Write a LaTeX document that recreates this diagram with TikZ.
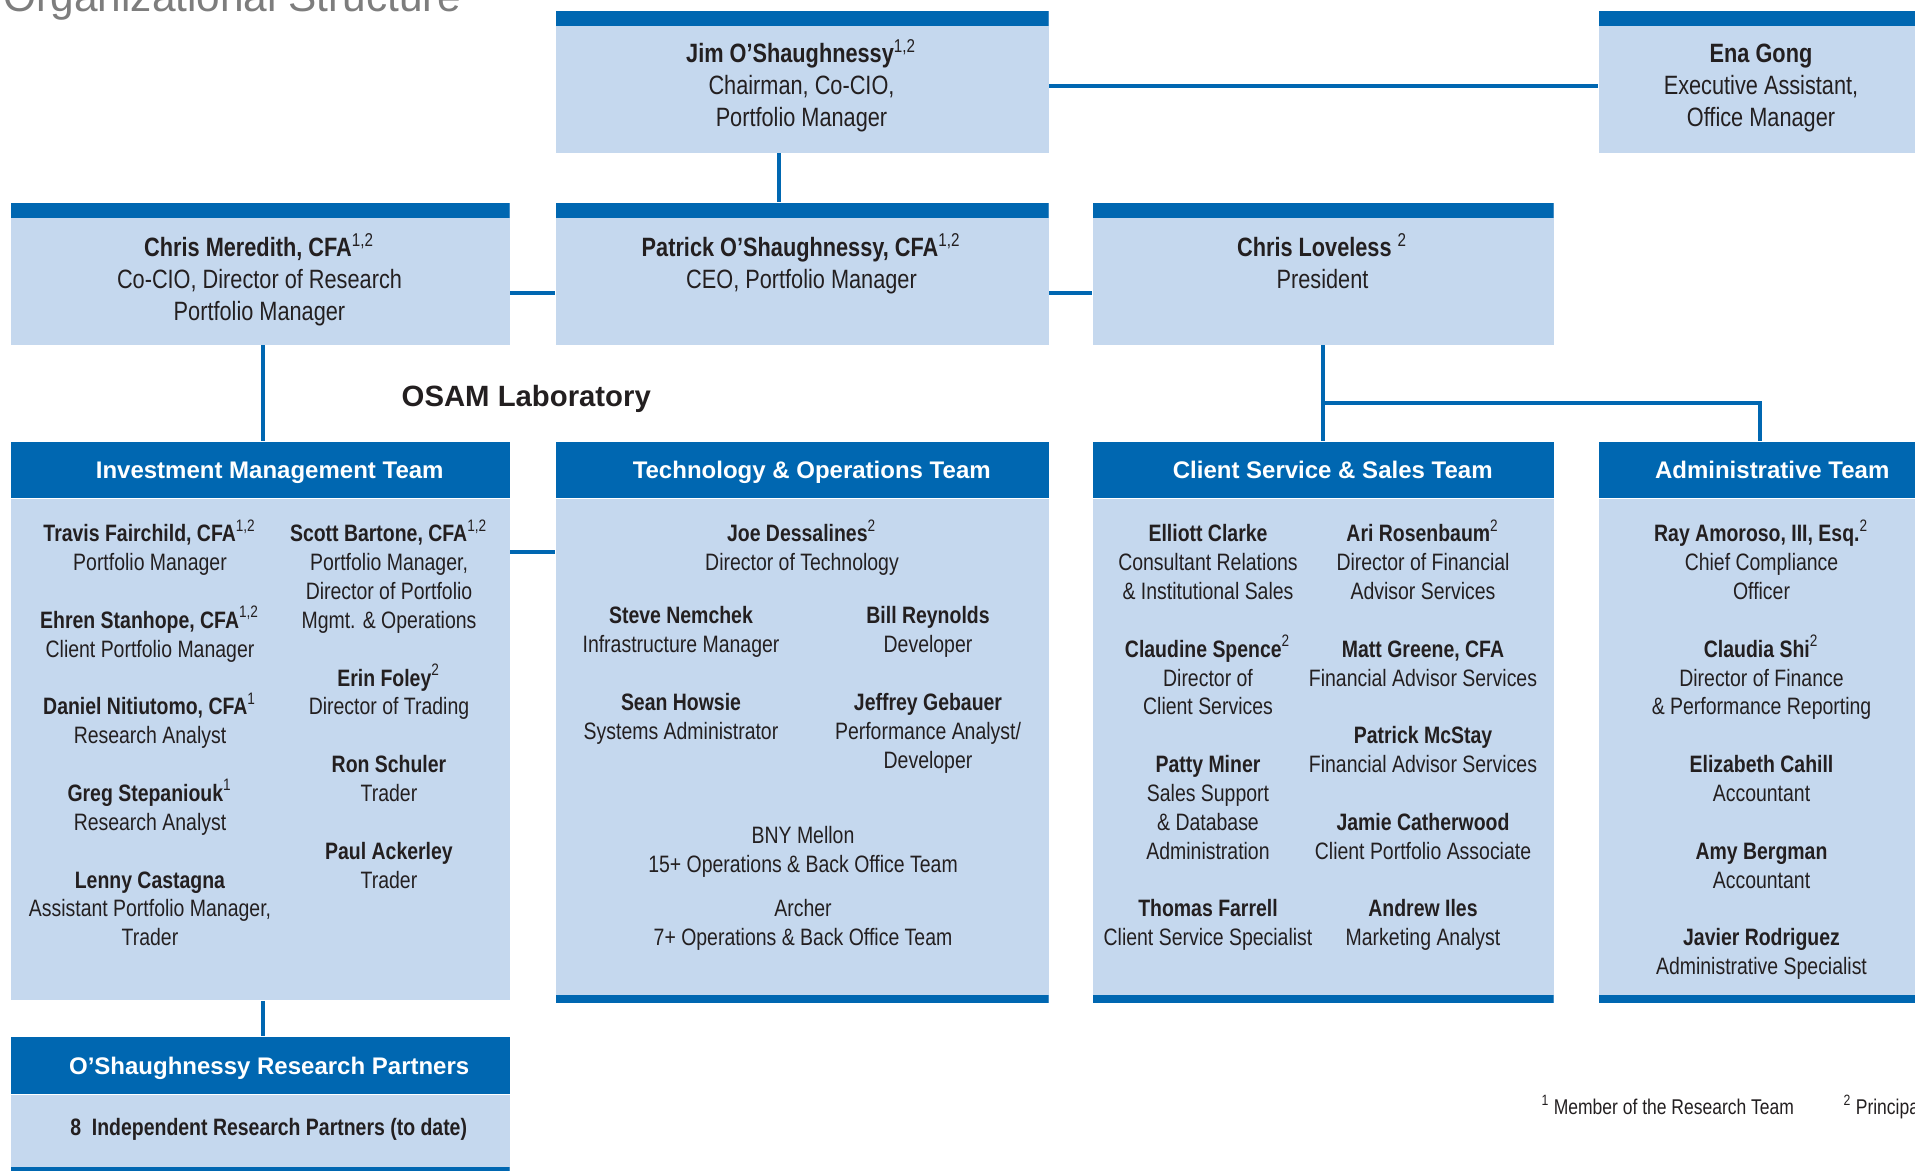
\documentclass[tikz,border=0pt]{standalone}
\usepackage{fontspec}
\setmainfont{Liberation Sans}
\newfontfamily\narrowsf{Liberation Sans}[FakeStretch=0.82]
\usepackage{xcolor}
\usetikzlibrary{positioning}

\definecolor{osamblue}{RGB}{0,103,177}
\definecolor{osamlight}{RGB}{197,216,238}
\definecolor{osamtext}{RGB}{35,31,32}
\definecolor{osamgray}{RGB}{125,125,125}

\newcommand\pname[1]{\textbf{#1}}
\newcommand\fnmark[1]{\textsuperscript{\mdseries#1}}
\newcommand\topstrut{\rule{0pt}{0.95em}}
\newcommand\nextone{\\[\baselineskip]}

\tikzset{
    box/.style={fill=osamlight, inner sep=0pt, anchor=north west},
    topbar/.style={path picture={\fill[osamblue] (path picture bounding box.north west) rectangle ([yshift=-1.55mm]path picture bounding box.north east);}},
    footbar/.style={path picture={\fill[osamblue] ([yshift=#1]path picture bounding box.south west) rectangle (path picture bounding box.south east);}},
    teamhead/.style={fill=osamblue, inner sep=0pt, anchor=north west, minimum height=5.6mm},
    teambody/.style={box, minimum height=#1},
    headtext/.style={font=\bfseries\fontsize{6.83}{8}\selectfont, text=white, inner sep=0pt, text height=0.52em, text depth=0pt},
    who/.style={font=\narrowsf\fontsize{7.54}{9.05}\selectfont, text=osamtext, align=center, inner sep=0pt, anchor=north},
    crew/.style={who, font=\narrowsf\fontsize{6.75}{8.21}\selectfont},
    note/.style={font=\narrowsf\fontsize{6.07}{7.5}\selectfont, text=osamtext, inner sep=0pt, anchor=base west},
    link/.style={draw=osamblue, line width=1.1pt}
}

\begin{document}
\begin{tikzpicture}[x=0.1mm, y=-0.1mm]
    \useasboundingbox (0,0) rectangle (1915,1170);
    \node[anchor=base west, inner sep=0pt, font=\fontsize{12.06}{14}\selectfont, text=osamgray] (title) at (3,11) {Organizational Structure};

    % 経営陣
    \node[box, topbar, minimum width=49.3mm, minimum height=14.2mm] (jim) at (555,10) {};
    \node[box, topbar, minimum width=32.8mm, minimum height=14.2mm] (ena) at (1598,10) {};
    \node[box, topbar, minimum width=49.9mm, minimum height=14.2mm] (meredith) at (10,202) {};
    \node[box, topbar, minimum width=49.3mm, minimum height=14.2mm] (patrick) at (555,202) {};
    \node[box, topbar, minimum width=46.1mm, minimum height=14.2mm] (loveless) at (1092,202) {};

    \node[who] (jimtxt) at (801.5,37) {\topstrut\pname{Jim O’Shaughnessy\fnmark{1,2}}\\ Chairman, Co-CIO,\\ Portfolio Manager};
    \node[who] (enatxt) at (1761,37) {\topstrut\pname{Ena Gong}\\ Executive Assistant,\\ Office Manager};
    \node[who] (meredithtxt) at (259.5,230.8) {\topstrut\pname{Chris Meredith, CFA\fnmark{1,2}}\\ Co-CIO, Director of Research\\ Portfolio Manager};
    \node[who] (patricktxt) at (801.5,230.8) {\topstrut\pname{Patrick O’Shaughnessy, CFA\fnmark{1,2}}\\ CEO, Portfolio Manager};
    \node[who] (lovelesstxt) at (1322.5,230.8) {\topstrut\pname{Chris Loveless \fnmark{2}}\\ President};

    \node[anchor=base west, inner sep=0pt, font=\bfseries\fontsize{8.34}{10}\selectfont, text=osamtext] (lab) at (401,406) {OSAM Laboratory};

    % チーム
    \node[teamhead, minimum width=49.9mm] (imhead) at (10,441) {};
    \node[teamhead, minimum width=49.3mm] (techhead) at (555,441) {};
    \node[teamhead, minimum width=46.1mm] (clienthead) at (1092,441) {};
    \node[teamhead, minimum width=32.8mm] (adminhead) at (1598,441) {};
    \node[headtext] (imtitle) at ([xshift=0.95mm]imhead.center) {Investment Management Team};
    \node[headtext] (techtitle) at ([xshift=0.95mm]techhead.center) {Technology \& Operations Team};
    \node[headtext] (clienttitle) at ([xshift=0.95mm]clienthead.center) {Client Service \& Sales Team};
    \node[headtext] (admintitle) at ([xshift=0.95mm]adminhead.center) {Administrative Team};

    \node[teambody=50.1mm, minimum width=49.9mm, below=0pt of imhead] (imbody) {};
    \node[teambody=50.4mm, footbar=0.8mm, minimum width=49.3mm, below=0pt of techhead] (techbody) {};
    \node[teambody=50.4mm, footbar=0.8mm, minimum width=46.1mm, below=0pt of clienthead] (clientbody) {};
    \node[teambody=50.4mm, footbar=0.8mm, minimum width=32.8mm, below=0pt of adminhead] (adminbody) {};

    \node[crew] (imleft) at (150,518.5) {\topstrut\pname{Travis Fairchild, CFA\fnmark{1,2}}\\ Portfolio Manager\nextone
        \pname{Ehren Stanhope, CFA\fnmark{1,2}}\\ Client Portfolio Manager\nextone
        \pname{Daniel Nitiutomo, CFA\fnmark{1}}\\ Research Analyst\nextone
        \pname{Greg Stepaniouk\fnmark{1}}\\ Research Analyst\nextone
        \pname{Lenny Castagna}\\ Assistant Portfolio Manager,\\ Trader};
    \node[crew] (imright) at (389,518.5) {\topstrut\pname{Scott Bartone, CFA\fnmark{1,2}}\\ Portfolio Manager,\\ Director of Portfolio\\ Mgmt. \& Operations\nextone
        \pname{Erin Foley\fnmark{2}}\\ Director of Trading\nextone
        \pname{Ron Schuler}\\ Trader\nextone
        \pname{Paul Ackerley}\\ Trader};

    \node[crew] (joe) at (802,518.5) {\topstrut\pname{Joe Dessalines\fnmark{2}}\\ Director of Technology};
    \node[crew] (techleft) at (681,600.5) {\topstrut\pname{Steve Nemchek}\\ Infrastructure Manager\nextone
        \pname{Sean Howsie}\\ Systems Administrator};
    \node[crew] (techright) at (928,600.5) {\topstrut\pname{Bill Reynolds}\\ Developer\nextone
        \pname{Jeffrey Gebauer}\\ Performance Analyst/\\ Developer};
    \node[crew] (bny) at (803,820) {\topstrut BNY Mellon\\ 15+ Operations \& Back Office Team};
    \node[crew] (archer) at (803,893) {\topstrut Archer\\ 7+ Operations \& Back Office Team};

    \node[crew] (clientleft) at (1208,518.5) {\topstrut\pname{Elliott Clarke}\\ Consultant Relations\\ \& Institutional Sales\nextone
        \pname{Claudine Spence\fnmark{2}}\\ Director of\\ Client Services\nextone
        \pname{Patty Miner}\\ Sales Support\\ \& Database\\ Administration\nextone
        \pname{Thomas Farrell}\\ Client Service Specialist};
    \node[crew] (clientright) at (1423,518.5) {\topstrut\pname{Ari Rosenbaum\fnmark{2}}\\ Director of Financial\\ Advisor Services\nextone
        \pname{Matt Greene, CFA}\\ Financial Advisor Services\nextone
        \pname{Patrick McStay}\\ Financial Advisor Services\nextone
        \pname{Jamie Catherwood}\\ Client Portfolio Associate\nextone
        \pname{Andrew Iles}\\ Marketing Analyst};

    \node[crew] (admintxt) at (1761.5,518.5) {\topstrut\pname{Ray Amoroso, III, Esq.\fnmark{2}}\\ Chief Compliance\\ Officer\nextone
        \pname{Claudia Shi\fnmark{2}}\\ Director of Finance\\ \& Performance Reporting\nextone
        \pname{Elizabeth Cahill}\\ Accountant\nextone
        \pname{Amy Bergman}\\ Accountant\nextone
        \pname{Javier Rodriguez}\\ Administrative Specialist};

    % リサーチパートナー
    \node[teamhead, minimum width=49.9mm, minimum height=5.7mm] (orphead) at (10,1036) {};
    \node[headtext] (orptitle) at ([xshift=0.9mm]orphead.center) {O’Shaughnessy Research Partners};
    \node[teambody=7.7mm, footbar=0.5mm, minimum width=49.9mm, below=0pt of orphead] (orpbody) {};
    \node[crew, anchor=center] (orptxt) at ([xshift=0.85mm,yshift=0.45mm]orpbody.center) {\pname{8\ \ Independent Research Partners (to date)}};

    % 接続線
    \draw[link] ([yshift=-0.4mm]jim.east) -- ([yshift=-0.4mm]ena.west);
    \draw[link] ([xshift=-2.35mm]jim.south) -- ([xshift=-2.35mm]patrick.north);
    \draw[link] ([yshift=-1.9mm]meredith.east) -- ([yshift=-1.9mm]patrick.west);
    \draw[link] ([yshift=-1.9mm]patrick.east) -- ([yshift=-1.9mm]loveless.west);
    \draw[link] ([xshift=0.3mm]meredith.south) -- ([xshift=0.3mm]imhead.north);
    \draw[link] ([xshift=0.3mm]imbody.south) -- ([xshift=0.3mm]orphead.north);
    \draw[link] ([yshift=-5.4mm]imhead.south east) -- ([yshift=-5.4mm]techhead.south west);
    \draw[link] (loveless.south) -- (clienthead.north);
    \draw[link] ([yshift=-5.8mm]loveless.south) -| ([xshift=-0.3mm]adminhead.north);

    % 脚注
    \node[note] (fn1) at (1541,1114) {\textsuperscript{1}\,Member of the Research Team};
    \node[note] (fn2) at (1843,1114) {\textsuperscript{2}\,Principal};
\end{tikzpicture}
\end{document}
